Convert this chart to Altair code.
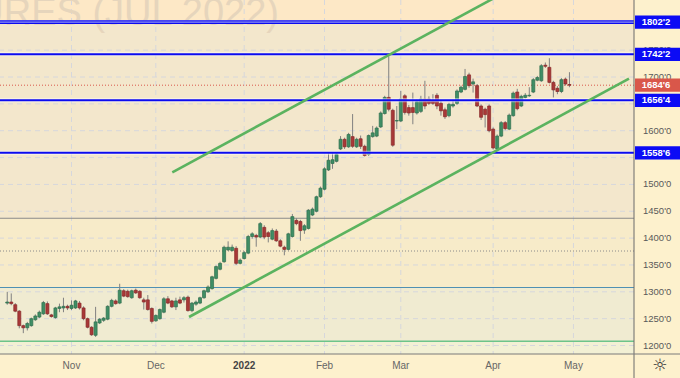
import altair as alt
import pandas as pd

# ---------------- data (daily bars, Oct 8 2021 .. Apr 29 2022, index = trading-day number) ----------------
opens = [
    1279, 1281, 1276, 1264, 1237, 1233, 1237, 1248, 1253, 1259,
    1278, 1257, 1252, 1269, 1270, 1273, 1269, 1270, 1279, 1270,
    1250, 1234, 1219, 1242, 1247, 1249, 1273, 1283, 1279, 1302,
    1301, 1289, 1303, 1301, 1285, 1285, 1269, 1246, 1250, 1262,
    1287, 1283, 1272, 1285, 1285, 1290, 1265, 1277, 1279, 1289,
    1300, 1306, 1325, 1342, 1356, 1378, 1377, 1381, 1353, 1362,
    1372, 1403, 1405, 1402, 1420, 1410, 1398, 1413, 1395, 1383,
    1379, 1403, 1433, 1431, 1415, 1418, 1443, 1450, 1477, 1491,
    1527, 1539, 1543, 1566, 1584, 1570, 1589, 1570, 1585, 1571,
    1556, 1589, 1590, 1607, 1632, 1662, 1638, 1618, 1618, 1665,
    1643, 1643, 1633, 1636, 1659, 1659, 1657, 1666, 1651, 1639,
    1628, 1646, 1651, 1672, 1677, 1704, 1687, 1684, 1646, 1640,
    1646, 1603, 1566, 1590, 1615, 1603, 1628, 1672, 1646, 1662,
    1665, 1672, 1694, 1693, 1722, 1718, 1690, 1679, 1673, 1696,
    1686,
]
highs = [
    1300, 1297, 1279, 1266, 1239, 1244, 1252, 1258, 1265, 1283,
    1282, 1259, 1272, 1278, 1289, 1276, 1284, 1285, 1283, 1273,
    1252, 1236, 1272, 1251, 1253, 1275, 1287, 1286, 1315, 1305,
    1304, 1304, 1306, 1303, 1289, 1294, 1271, 1258, 1269, 1290,
    1292, 1285, 1289, 1291, 1292, 1293, 1281, 1284, 1291, 1304,
    1312, 1330, 1349, 1356, 1386, 1394, 1388, 1385, 1362, 1376,
    1406, 1411, 1408, 1430, 1424, 1413, 1418, 1417, 1398, 1386,
    1410, 1445, 1437, 1434, 1426, 1454, 1457, 1479, 1496, 1532,
    1559, 1559, 1560, 1590, 1587, 1596, 1631, 1587, 1591, 1574,
    1593, 1609, 1608, 1636, 1665, 1744, 1641, 1646, 1674, 1668,
    1648, 1671, 1658, 1665, 1693, 1664, 1668, 1670, 1656, 1643,
    1652, 1658, 1677, 1684, 1715, 1708, 1697, 1687, 1649, 1643,
    1649, 1606, 1593, 1618, 1618, 1632, 1673, 1678, 1667, 1670,
    1681, 1698, 1702, 1724, 1727, 1735, 1693, 1683, 1698, 1699,
    1709,
]
lows = [
    1276, 1275, 1262, 1232, 1223, 1228, 1235, 1246, 1251, 1257,
    1257, 1252, 1250, 1262, 1262, 1266, 1266, 1268, 1267, 1247,
    1232, 1218, 1216, 1240, 1244, 1247, 1271, 1276, 1277, 1290,
    1289, 1287, 1296, 1287, 1267, 1265, 1241, 1244, 1248, 1260,
    1277, 1270, 1266, 1277, 1280, 1263, 1262, 1274, 1277, 1287,
    1298, 1304, 1323, 1340, 1354, 1376, 1375, 1350, 1351, 1360,
    1370, 1399, 1384, 1400, 1398, 1392, 1396, 1393, 1383, 1368,
    1377, 1401, 1424, 1395, 1408, 1416, 1441, 1448, 1475, 1489,
    1525, 1529, 1541, 1564, 1566, 1568, 1568, 1568, 1566, 1552,
    1553, 1587, 1588, 1605, 1630, 1636, 1570, 1603, 1616, 1630,
    1628, 1612, 1630, 1633, 1640, 1648, 1648, 1640, 1628, 1622,
    1625, 1643, 1648, 1670, 1675, 1680, 1671, 1644, 1620, 1606,
    1597, 1565, 1563, 1588, 1601, 1601, 1626, 1638, 1644, 1660,
    1663, 1670, 1692, 1691, 1717, 1688, 1662, 1668, 1670, 1684,
    1681,
]
closes = [
    1281, 1278, 1264, 1237, 1233, 1241, 1250, 1255, 1262, 1280,
    1259, 1254, 1270, 1272, 1273, 1270, 1275, 1283, 1270, 1250,
    1234, 1220, 1244, 1249, 1251, 1273, 1284, 1278, 1303, 1292,
    1291, 1302, 1298, 1289, 1281, 1267, 1245, 1256, 1267, 1287,
    1279, 1272, 1283, 1279, 1289, 1265, 1279, 1281, 1289, 1302,
    1309, 1328, 1347, 1353, 1383, 1383, 1383, 1353, 1359, 1373,
    1403, 1408, 1402, 1427, 1402, 1403, 1414, 1395, 1385, 1379,
    1408, 1440, 1427, 1414, 1423, 1452, 1454, 1477, 1493, 1529,
    1545, 1546, 1556, 1584, 1570, 1593, 1571, 1584, 1571, 1554,
    1591, 1596, 1605, 1633, 1662, 1640, 1573, 1619, 1659, 1634,
    1633, 1634, 1654, 1659, 1646, 1651, 1651, 1646, 1637, 1626,
    1649, 1649, 1674, 1681, 1701, 1684, 1691, 1646, 1625, 1630,
    1600, 1568, 1590, 1615, 1604, 1629, 1670, 1641, 1664, 1666,
    1666, 1695, 1699, 1721, 1720, 1690, 1676, 1673, 1695, 1687,
    1684.75,
]

month_labels = ["Nov", "Dec", "2022", "Feb", "Mar", "Apr", "May"]
month_bars = [16, 37, 59, 79, 98, 121, 141]

key_levels = [1802.25, 1742.25, 1656.5, 1558.75]
last_price = 1684.75
gray_level = 1437
dotted_level = 1376
steel_level = 1308
green_level = 1208

band_tops = [1843.4, 1802.25, 1437, 1308, 1208]
band_bottoms = [1802.25, 1437, 1308, 1208, 1184.2]
band_colors = ["#fde8c6", "#f3e7cc", "#f7ebc9", "#f0ebd1", "#f2f0d4"]

grid_levels = list(range(1200, 1801, 50))
label_levels = [1200, 1250, 1300, 1350, 1400, 1450, 1500, 1600, 1700, 1750]  # others hidden behind price boxes
tick_labels = [f"{v}'0" for v in label_levels]

channel_name = ["lower", "lower", "upper", "upper"]
channel_bar = [45.27, 154.83, 41.1, 154.83]
channel_price = [1253.1, 1696.8, 1522.5, 1983.1]

watermark = "FUTURES (JUL 2022)"

# ---------------- scales ----------------
xscale = alt.Scale(domain=[-0.56, 154.83], nice=False, zero=False)
yscale = alt.Scale(domain=[1184.2, 1843.4], nice=False, zero=False)

def eighths(v):
    return f"{int(v)}'{int(round((v - int(v)) * 8))}"

candles = pd.DataFrame({
    "idx": list(range(len(opens))),
    "open": opens, "high": highs, "low": lows, "close": closes,
})
candles["dir"] = ["up" if c >= o else "down" for o, c in zip(opens, closes)]

one = pd.DataFrame({"a": [0]})

bands = alt.Chart(pd.DataFrame({"top": band_tops, "bot": band_bottoms, "col": band_colors})).mark_rect().encode(
    x=alt.value(0), x2=alt.value(634),
    y=alt.Y("top:Q", scale=yscale, axis=None), y2="bot:Q",
    color=alt.Color("col:N", scale=None, legend=None),
)

hgrid = alt.Chart(pd.DataFrame({"level": grid_levels})).mark_rule(
    color="#d6d7dc", strokeDash=[5, 4], strokeWidth=1
).encode(y=alt.Y("level:Q", scale=yscale, axis=None))

ytext = alt.Chart(pd.DataFrame({"level": label_levels, "label": tick_labels})).mark_text(
    align="left", baseline="middle", fontSize=9.5, font="Liberation Sans", color="#5a5a5a"
).encode(x=alt.value(643), y=alt.Y("level:Q", scale=yscale, axis=None), text="label:N")

months = pd.DataFrame({"idx": month_bars, "label": month_labels})
vgrid = alt.Chart(months).mark_rule(color="#d6d7dc", strokeDash=[5, 4], strokeWidth=1).encode(
    x=alt.X("idx:Q", scale=xscale, axis=None), y=alt.value(0), y2=alt.value(354)
)

wm = alt.Chart(pd.DataFrame({"t": [watermark]})).mark_text(
    align="right", baseline="alphabetic", fontSize=38, font="Liberation Sans", color="#e6d5bc"
).encode(x=alt.value(279), y=alt.value(25), text="t:N")

def hline(value, **kw):
    return alt.Chart(pd.DataFrame({"v": [value]})).mark_rule(**kw).encode(
        y=alt.Y("v:Q", scale=yscale, axis=None)
    )

gray_line = hline(gray_level, color="#8a8a8a", strokeWidth=1.2)
dotted_line = hline(dotted_level, color="#8a8a8a", strokeWidth=1, strokeDash=[1, 2])
steel_line = hline(steel_level, color="#4f90b3", strokeWidth=1.2)
green_line = hline(green_level, color="#6cc48a", strokeWidth=1.6)
price_line = hline(last_price, color="#d9574a", strokeWidth=1, strokeDash=[1, 2])

wicks = alt.Chart(candles).mark_rule(color="#808080", strokeWidth=1).encode(
    x=alt.X("idx:Q", scale=xscale, axis=None),
    y=alt.Y("low:Q", scale=yscale, axis=None), y2="high:Q",
)
bodies = alt.Chart(candles).mark_bar(size=3, strokeWidth=0.7).encode(
    x=alt.X("idx:Q", scale=xscale, axis=None),
    y=alt.Y("open:Q", scale=yscale, axis=None), y2="close:Q",
    fill=alt.Fill("dir:N", scale=alt.Scale(domain=["up", "down"], range=["#3f8e65", "#a93838"]), legend=None),
    stroke=alt.Stroke("dir:N", scale=alt.Scale(domain=["up", "down"], range=["#2f6e4d", "#862828"]), legend=None),
)

lv = pd.DataFrame({"v": key_levels})
blue_halo = alt.Chart(lv).mark_rule(color="#ffffff", strokeWidth=4, opacity=0.55).encode(
    y=alt.Y("v:Q", scale=yscale, axis=None))
blue_lines = alt.Chart(lv).mark_rule(color="#0b0bf0", strokeWidth=2).encode(
    y=alt.Y("v:Q", scale=yscale, axis=None))
top_double = hline(key_levels[0], color="#0b0bf0", strokeWidth=3.6)
top_inner = hline(key_levels[0], color="#c5c8f5", strokeWidth=0.9)

channel = alt.Chart(pd.DataFrame({"name": channel_name, "bar": channel_bar, "price": channel_price})).mark_line(
    color="#5bb35f", strokeWidth=2.6, clip=True
).encode(
    x=alt.X("bar:Q", scale=xscale, axis=None),
    y=alt.Y("price:Q", scale=yscale, axis=None),
    detail="name:N",
)

box_df = pd.DataFrame({
    "price": key_levels + [last_price],
    "kind": ["blue"] * len(key_levels) + ["red"],
})
box_df["label"] = [eighths(v) for v in box_df["price"]]
boxes = alt.Chart(box_df).transform_calculate(lo="datum.price - 12.3", hi="datum.price + 12.3").mark_rect().encode(
    x=alt.value(635), x2=alt.value(680),
    y=alt.Y("lo:Q", scale=yscale, axis=None), y2="hi:Q",
    color=alt.Color("kind:N", scale=alt.Scale(domain=["blue", "red"], range=["#0b0bf5", "#d9574a"]), legend=None),
)
box_text = alt.Chart(box_df).mark_text(
    align="center", baseline="middle", color="white", fontWeight="bold", fontSize=9.5, font="Liberation Sans"
).encode(x=alt.value(656), y=alt.Y("price:Q", scale=yscale, axis=None), text="label:N")

frame_v = alt.Chart(one).mark_rule(color="#6b6b6b", strokeWidth=1).encode(
    x=alt.value(634), y=alt.value(0), y2=alt.value(378))
frame_h = alt.Chart(one).mark_rule(color="#7a7a7a", strokeWidth=1).encode(
    x=alt.value(0), x2=alt.value(680), y=alt.value(354))

mlabels = alt.Chart(months).transform_filter("datum.label != '2022'").mark_text(
    fontSize=10, font="Liberation Sans", color="#666666", baseline="middle"
).encode(x=alt.X("idx:Q", scale=xscale, axis=None), y=alt.value(366), text="label:N")
ylabel = alt.Chart(months).transform_filter("datum.label == '2022'").mark_text(
    fontSize=10, font="Liberation Sans", color="#444444", fontWeight="bold", baseline="middle"
).encode(x=alt.X("idx:Q", scale=xscale, axis=None), y=alt.value(366), text="label:N")

gear = alt.Chart(pd.DataFrame({"g": ["☼"]})).mark_text(
    fontSize=17, font="DejaVu Sans", color="#333333", baseline="middle"
).encode(x=alt.value(660), y=alt.value(366), text="g:N")

chart = alt.layer(
    bands, hgrid, vgrid, wm, gray_line, dotted_line, steel_line, green_line, price_line,
    wicks, bodies, blue_halo, blue_lines, top_double, top_inner, channel,
    ytext, boxes, box_text, frame_v, frame_h, mlabels, ylabel, gear,
).properties(
    width=634, height=354, background="#fdf1cd",
    padding={"left": 0, "top": 0, "right": 46, "bottom": 24},
    autosize="none",
).configure_view(stroke=None)

chart.save("out.html", embed_options={"renderer": "svg", "actions": False})
